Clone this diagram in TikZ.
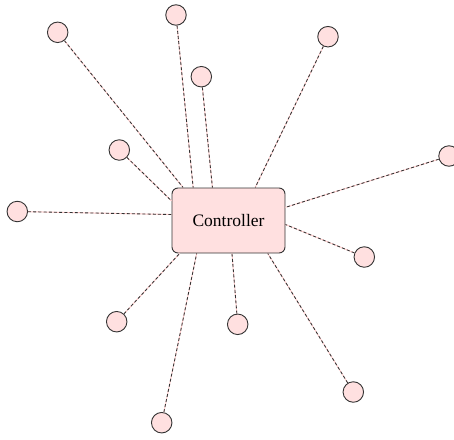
\documentclass[tikz,border=0pt]{standalone}
\usepackage{fontspec}
\setmainfont{Liberation Serif}
\definecolor{nodefill}{RGB}{255,224,224}
\definecolor{edgedark}{RGB}{51,51,51}
\definecolor{edgepink}{RGB}{255,205,205}
\begin{document}
\begin{tikzpicture}[x=1pt,y=-1pt,
  leaf/.style={circle,draw=edgedark,fill=nodefill,line width=0.9pt,minimum size=20.5pt,inner sep=0pt},
  ctrlbox/.style={rectangle,rounded corners=6pt,draw=edgedark,fill=nodefill,line width=0.9pt,minimum width=113pt,minimum height=65pt,inner sep=0pt,font=\fontsize{17.5}{19}\selectfont},
  linkpink/.style={draw=edgepink,line width=1pt},
  linkdash/.style={draw=edgedark,line width=0.85pt,dash pattern=on 3pt off 2.2pt}]
\useasboundingbox (0,0) rectangle (454,439);
\node[leaf] (c1) at (57.7,32.3) {};
\node[leaf] (c2) at (176,15) {};
\node[leaf] (c3) at (328,36.7) {};
\node[leaf] (c4) at (201.3,76.7) {};
\node[leaf] (c5) at (119.3,150) {};
\node[leaf] (c6) at (449,156) {};
\node[leaf] (c7) at (17.3,211.5) {};
\node[leaf] (c8) at (364.3,257) {};
\node[leaf] (c9) at (116.7,321.7) {};
\node[leaf] (c10) at (237.7,324.3) {};
\node[leaf] (c11) at (353.3,392) {};
\node[leaf] (c12) at (161.7,422.7) {};
\node[ctrlbox] (ctrl) at (228.5,220.5) {Controller};
\foreach \c/\a in {c1/144.5,c2/137.5,c4/116.9,c3/51.9,c6/13.4,c8/-4.6,c7/174.4,c5/161,c9/214.9,c12/226.8,c10/276.1,c11/320.6}{
  \path[linkpink] (\c) -- (ctrl.\a);
  \path[linkdash] (\c) -- (ctrl.\a);
}
\end{tikzpicture}
\end{document}
